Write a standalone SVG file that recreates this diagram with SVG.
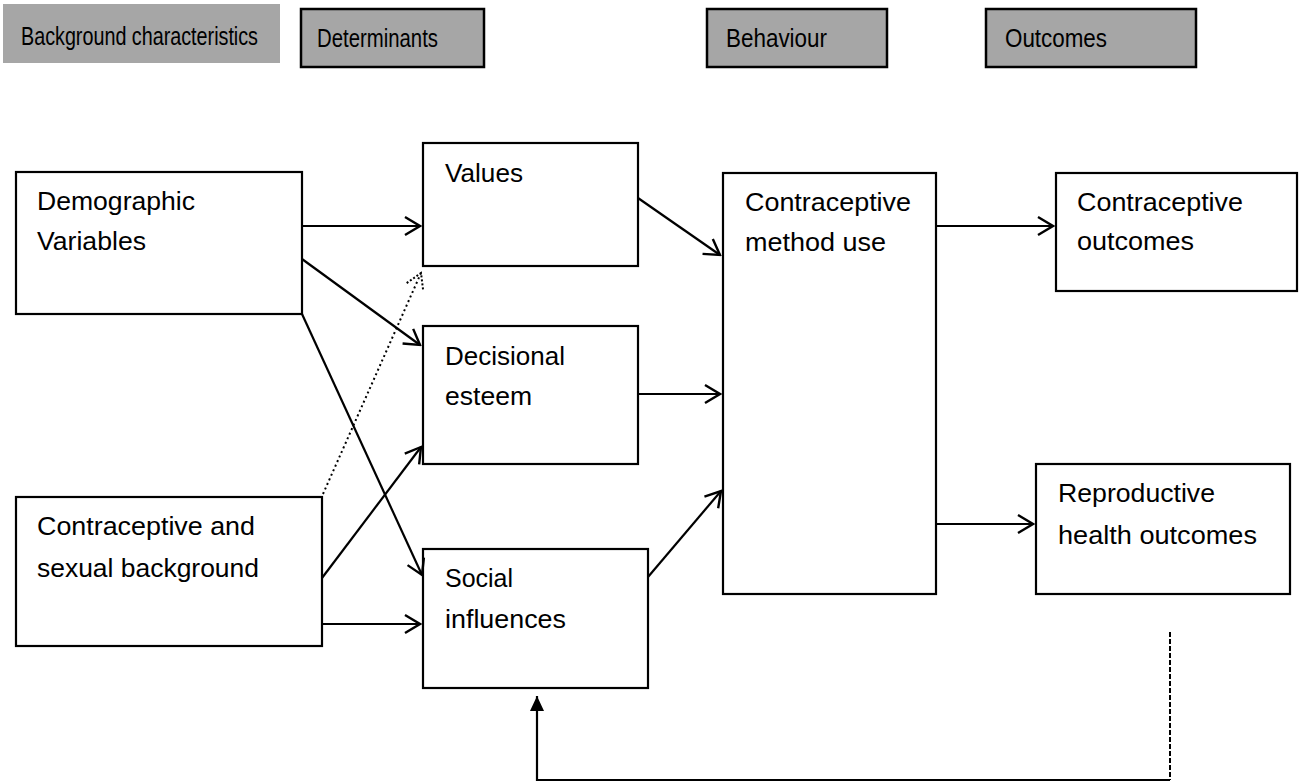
<svg xmlns="http://www.w3.org/2000/svg" width="1300" height="782" viewBox="0 0 1300 782">
<style>
  .hdr { fill: #a6a6a6; stroke: #000; stroke-width: 2.5; }
  .hdr0 { fill: #a6a6a6; stroke: none; }
  .box { fill: #fff; stroke: #000; stroke-width: 2.2; }
  .ht { font-family: "Liberation Sans", Arial, sans-serif; font-size: 25px; fill: #000; }
  .t { font-family: "Liberation Sans", Arial, sans-serif; font-size: 26px; fill: #000; }
  .c { fill: none; stroke: #000; stroke-width: 2.2; }
  .dot { fill: none; stroke: #000; stroke-width: 2; stroke-dasharray: 2 3; }
  .dash { fill: none; stroke: #000; stroke-width: 2; stroke-dasharray: 5 2; }
</style>
<defs>
  <marker id="open" viewBox="-17 -11 19 22" markerWidth="19" markerHeight="22" refX="0" refY="0" orient="auto" markerUnits="userSpaceOnUse">
    <path d="M-15,-9 L0,0 L-15,9" fill="none" stroke="#000" stroke-width="2.4"/>
  </marker>
  <marker id="opendot" viewBox="-17 -11 19 22" markerWidth="19" markerHeight="22" refX="0" refY="0" orient="auto" markerUnits="userSpaceOnUse">
    <path d="M-15,-9 L0,0 L-15,9" fill="none" stroke="#000" stroke-width="2" stroke-dasharray="2 2"/>
  </marker>
  <marker id="filled" viewBox="-16 -8 17 16" markerWidth="17" markerHeight="16" refX="0" refY="0" orient="auto" markerUnits="userSpaceOnUse">
    <path d="M-15,-7 L0,0 L-15,7 Z" fill="#000" stroke="none"/>
  </marker>
</defs>

<!-- headers -->
<g id="hdr-background">
  <rect class="hdr0" x="3" y="4" width="277" height="59"/>
  <text class="ht" x="21" y="45" textLength="237" lengthAdjust="spacingAndGlyphs">Background characteristics</text>
</g>
<g id="hdr-determinants">
  <rect class="hdr" x="301" y="9" width="183" height="58"/>
  <text class="ht" x="317" y="47" textLength="121" lengthAdjust="spacingAndGlyphs">Determinants</text>
</g>
<g id="hdr-behaviour">
  <rect class="hdr" x="707" y="9" width="180" height="58"/>
  <text class="ht" x="726" y="47" textLength="101" lengthAdjust="spacingAndGlyphs">Behaviour</text>
</g>
<g id="hdr-outcomes">
  <rect class="hdr" x="986" y="9" width="210" height="58"/>
  <text class="ht" x="1005" y="47" textLength="102" lengthAdjust="spacingAndGlyphs">Outcomes</text>
</g>

<!-- nodes -->
<g id="demographic">
  <rect class="box" x="16" y="172" width="286" height="142"/>
  <text class="t" x="37" y="210" textLength="158" lengthAdjust="spacingAndGlyphs">Demographic</text>
  <text class="t" x="37" y="250" textLength="109" lengthAdjust="spacingAndGlyphs">Variables</text>
</g>
<g id="csb">
  <rect class="box" x="16" y="497" width="306" height="149"/>
  <text class="t" x="37" y="535" textLength="218" lengthAdjust="spacingAndGlyphs">Contraceptive and</text>
  <text class="t" x="37" y="577" textLength="222" lengthAdjust="spacingAndGlyphs">sexual background</text>
</g>
<g id="values">
  <rect class="box" x="423" y="143" width="215" height="123"/>
  <text class="t" x="445" y="182" textLength="78" lengthAdjust="spacingAndGlyphs">Values</text>
</g>
<g id="decisional">
  <rect class="box" x="423" y="326" width="215" height="138"/>
  <text class="t" x="445" y="365" textLength="120" lengthAdjust="spacingAndGlyphs">Decisional</text>
  <text class="t" x="445" y="405" textLength="87" lengthAdjust="spacingAndGlyphs">esteem</text>
</g>
<g id="social">
  <rect class="box" x="423" y="549" width="225" height="139"/>
  <text class="t" x="445" y="587" textLength="68" lengthAdjust="spacingAndGlyphs">Social</text>
  <text class="t" x="445" y="628" textLength="121" lengthAdjust="spacingAndGlyphs">influences</text>
</g>
<g id="cmu">
  <rect class="box" x="723" y="173" width="213" height="421"/>
  <text class="t" x="745" y="211" textLength="166" lengthAdjust="spacingAndGlyphs">Contraceptive</text>
  <text class="t" x="745" y="251" textLength="141" lengthAdjust="spacingAndGlyphs">method use</text>
</g>
<g id="co">
  <rect class="box" x="1056" y="173" width="241" height="118"/>
  <text class="t" x="1077" y="211" textLength="166" lengthAdjust="spacingAndGlyphs">Contraceptive</text>
  <text class="t" x="1077" y="250" textLength="117" lengthAdjust="spacingAndGlyphs">outcomes</text>
</g>
<g id="rho">
  <rect class="box" x="1036" y="464" width="254" height="130"/>
  <text class="t" x="1058" y="502" textLength="157" lengthAdjust="spacingAndGlyphs">Reproductive</text>
  <text class="t" x="1058" y="544" textLength="199" lengthAdjust="spacingAndGlyphs">health outcomes</text>
</g>

<!-- connectors -->
<g id="connectors">
  <line class="c" x1="302" y1="226" x2="420" y2="226" marker-end="url(#open)"/>
  <line class="c" x1="302" y1="259" x2="420" y2="345" marker-end="url(#open)"/>
  <line class="c" x1="302" y1="314" x2="422" y2="575" marker-end="url(#open)"/>
  <line class="dot" x1="323" y1="494" x2="421" y2="273" marker-end="url(#opendot)"/>
  <line class="c" x1="322" y1="578" x2="421" y2="447" marker-end="url(#open)"/>
  <line class="c" x1="322" y1="624" x2="420" y2="624" marker-end="url(#open)"/>
  <line class="c" x1="638" y1="198" x2="720" y2="255" marker-end="url(#open)"/>
  <line class="c" x1="638" y1="394" x2="720" y2="394" marker-end="url(#open)"/>
  <line class="c" x1="648" y1="577" x2="721" y2="491" marker-end="url(#open)"/>
  <line class="c" x1="936" y1="226" x2="1053" y2="226" marker-end="url(#open)"/>
  <line class="c" x1="936" y1="524" x2="1033" y2="524" marker-end="url(#open)"/>
  <line class="dash" x1="1170" y1="632" x2="1170" y2="780"/>
  <polyline class="c" points="1170,780 537,780 537,696" marker-end="url(#filled)"/>
</g>
</svg>
